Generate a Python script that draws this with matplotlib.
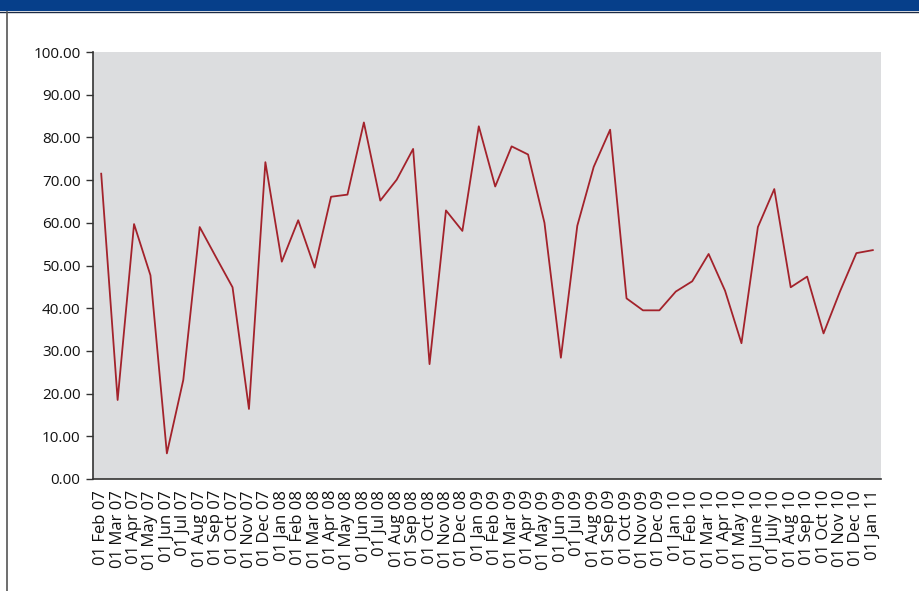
import matplotlib
matplotlib.use("Agg")  # headless
import matplotlib.pyplot as plt
from matplotlib.patches import Rectangle
from matplotlib.lines import Line2D

# category labels (monthly, first of month)
months = [
    "01 Feb 07", "01 Mar 07", "01 Apr 07", "01 May 07", "01 Jun 07", "01 Jul 07",
    "01 Aug 07", "01 Sep 07", "01 Oct 07", "01 Nov 07", "01 Dec 07", "01 Jan 08",
    "01 Feb 08", "01 Mar 08", "01 Apr 08", "01 May 08", "01 Jun 08", "01 Jul 08",
    "01 Aug 08", "01 Sep 08", "01 Oct 08", "01 Nov 08", "01 Dec 08", "01 Jan 09",
    "01 Feb 09", "01 Mar 09", "01 Apr 09", "01 May 09", "01 Jun 09", "01 Jul 09",
    "01 Aug 09", "01 Sep 09", "01 Oct 09", "01 Nov 09", "01 Dec 09", "01 Jan 10",
    "01 Feb 10", "01 Mar 10", "01 Apr 10", "01 May 10", "01 June 10", "01 July 10",
    "01 Aug 10", "01 Sep 10", "01 Oct 10", "01 Nov 10", "01 Dec 10", "01 Jan 11",
]

# values
values = [
    71.5, 18.5, 59.7, 47.7, 6.0, 23.2, 59.0, 51.9, 44.9, 16.4, 74.2, 50.9,
    60.6, 49.5, 66.1, 66.6, 83.5, 65.2, 70.1, 77.3, 26.9, 62.9, 58.1, 82.6,
    68.5, 77.9, 76.0, 60.0, 28.4, 59.3, 73.1, 81.8, 42.3, 39.5, 39.5, 43.9,
    46.3, 52.7, 44.1, 31.8, 59.0, 67.9, 44.9, 47.4, 34.1, 43.9, 52.9, 53.6,
]

y_ticks = [0, 10, 20, 30, 40, 50, 60, 70, 80, 90, 100]

plt.rcParams["font.family"] = ["Open Sans", "DejaVu Sans"]

fig = plt.figure(figsize=(9.2, 5.91), dpi=100)

# blue header band and left frame line
fig.patches.append(Rectangle((0, 1 - 11 / 591), 1, 11 / 591, transform=fig.transFigure,
                             facecolor="#063f8a", edgecolor="none", zorder=0))
fig.lines.append(Line2D([0, 1], [1 - 12 / 591, 1 - 12 / 591], transform=fig.transFigure,
                        color="#1c2a44", linewidth=1.0))
fig.lines.append(Line2D([7 / 920, 7 / 920], [0, 1 - 12 / 591], transform=fig.transFigure,
                        color="#555555", linewidth=1.2))

ax = fig.add_axes([93 / 920, 112 / 591, 788 / 920, 427 / 591])
ax.set_facecolor("#dcdddf")

x = list(range(len(months)))
ax.plot(x, values, color="#a3222b", linewidth=1.3)

ax.set_xlim(-0.5, len(months) - 0.5)
ax.set_ylim(0, 100)
ax.set_yticks(y_ticks)
ax.set_yticklabels([f"{v:.2f}" for v in y_ticks], fontsize=11)
ax.set_xticks(x)
ax.set_xticklabels(months, rotation=90, fontsize=12)

ax.tick_params(axis="y", length=5, width=1, color="#333333", pad=4, labelcolor="#111111")
ax.tick_params(axis="x", length=0, pad=8, labelcolor="#111111")

for side in ("top", "right"):
    ax.spines[side].set_visible(False)
for side in ("left", "bottom"):
    ax.spines[side].set_color("#333333")
    ax.spines[side].set_linewidth(1.2)

plt.savefig("out.png", dpi=100)
plt.close(fig)
